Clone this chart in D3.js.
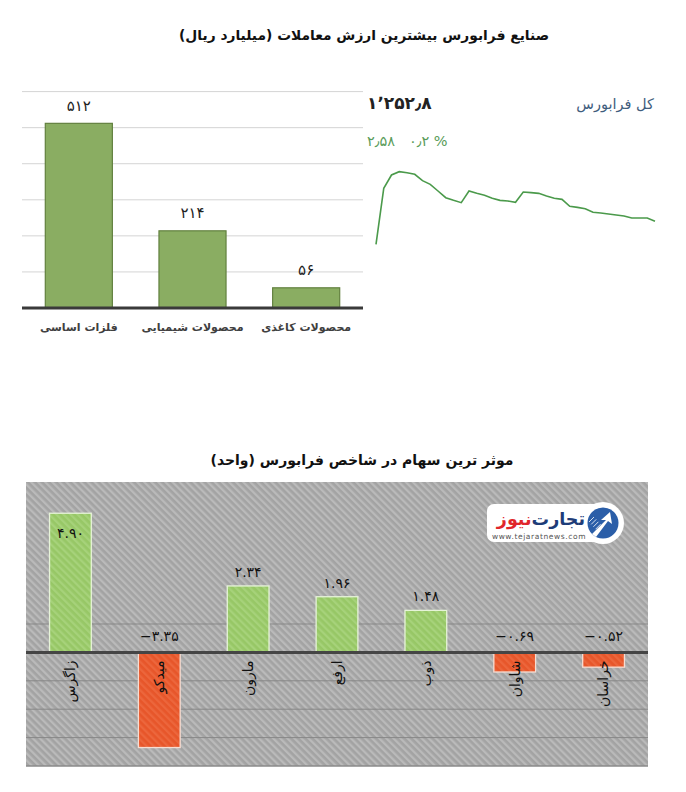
<!DOCTYPE html>
<html><head><meta charset="utf-8">
<script src="https://cdn.jsdelivr.net/npm/d3@7"></script>
<style>body{margin:0;background:#fff} svg{display:block;font-family:"DejaVu Sans",sans-serif} .num{unicode-bidi:bidi-override;direction:ltr}</style>
</head><body><svg id="c" width="686" height="792"></svg>
<script>
// ---------- data ----------
const topTitle = "صنایع فرابورس بیشترین ارزش معاملات  (میلیارد ریال)";
const topCategories = ["فلزات اساسی", "محصولات شیمیایی", "محصولات کاغذی"];
const topValues = [512, 214, 56];
const topValueLabels = ["۵۱۲", "۲۱۴", "۵۶"];
const topTicks = [100, 200, 300, 400, 500, 600];

const indexName = "کل فرابورس";
const indexLevel = "۱٬۲۵۲٫۸";
const indexChange = "۲٫۵۸   ۰٫۲ %";
const indexSeries = [1249.35, 1257.75, 1259.75, 1260.25, 1260.1, 1259.85, 1258.9, 1258.35, 1257.35,
  1256.35, 1255.95, 1255.6, 1257.35, 1257.0, 1256.7, 1256.25, 1255.95, 1255.85, 1255.65, 1257.2,
  1257.1, 1257.0, 1256.6, 1256.25, 1256.1, 1255.05, 1254.9, 1254.7, 1254.15, 1254.05, 1253.9,
  1253.75, 1253.6, 1253.3, 1253.3, 1253.3, 1252.8];

const bottomTitle = "موثر ترین سهام در شاخص فرابورس (واحد)";
const stocks = ["زاگرس", "میدکو", "مارون", "ارفع", "ذوب", "شاوان", "خراسان"];
const impacts = [4.90, -3.35, 2.34, 1.96, 1.48, -0.69, -0.52];
const impactLabels = ["۴.۹۰", "−۳.۳۵", "۲.۳۴", "۱.۹۶", "۱.۴۸", "−۰.۶۹", "−۰.۵۲"];
const impactGrid = [1, -1, -2, -3];

// ---------- drawing ----------
const svg = d3.select("#c");
const defs = svg.append("defs");
function hatch(id, base, light, w) {
  const p = defs.append("pattern").attr("id", id).attr("patternUnits", "userSpaceOnUse")
    .attr("width", 5).attr("height", 5).attr("patternTransform", "rotate(-45)");
  p.append("rect").attr("width", 5).attr("height", 5).attr("fill", base);
  p.append("rect").attr("width", w).attr("height", 5).attr("fill", light);
}
hatch("bgH", "#a3a3a3", "#bababa", 2.3);
hatch("gH", "#97c766", "#a6d27a", 2.3);
hatch("rH", "#e7562a", "#ec663c", 2.3);

// top title
svg.append("text").attr("x", 364).attr("y", 40).attr("text-anchor", "middle")
  .attr("font-size", 13.8).attr("font-weight", "bold").attr("fill", "#111").text(topTitle);

// top bar chart
const tx = d3.scaleBand().domain(topCategories).range([22, 363]).paddingInner(0.41).paddingOuter(0.205);
const ty = d3.scaleLinear().domain([0, 600]).range([308, 91.6]);
svg.append("g").selectAll("line").data(topTicks).join("line")
  .attr("x1", 22).attr("x2", 363).attr("y1", d => ty(d)).attr("y2", d => ty(d))
  .attr("stroke", "#d4d4d4").attr("stroke-width", 1);
svg.append("g").selectAll("rect").data(topValues).join("rect")
  .attr("x", (d, i) => tx(topCategories[i])).attr("width", tx.bandwidth())
  .attr("y", d => ty(d)).attr("height", d => ty(0) - ty(d))
  .attr("fill", "#8aad62").attr("stroke", "#62803f").attr("stroke-width", 1.2);
svg.append("line").attr("x1", 22).attr("x2", 363).attr("y1", ty(0)).attr("y2", ty(0))
  .attr("stroke", "#3a3a3a").attr("stroke-width", 3);
svg.append("g").selectAll("text").data(topValues).join("text")
  .attr("class", "num")
  .attr("x", (d, i) => tx(topCategories[i]) + tx.bandwidth() / 2).attr("y", d => ty(d) - 18)
  .attr("dy", "0.35em").attr("text-anchor", "middle").attr("font-size", 15).attr("fill", "#222")
  .text((d, i) => topValueLabels[i]);
svg.append("g").selectAll("text").data(topCategories).join("text")
  .attr("x", d => tx(d) + tx.bandwidth() / 2).attr("y", 327).attr("dy", "0.35em")
  .attr("text-anchor", "middle").attr("font-size", 11).attr("font-weight", "bold").attr("fill", "#404040")
  .text(d => d);

// index sparkline
svg.append("text").attr("class", "num").attr("x", 367).attr("y", 103).attr("dy", "0.35em").attr("font-size", 17)
  .attr("font-weight", "bold").attr("fill", "#222").text(indexLevel);
svg.append("text").attr("x", 654).attr("y", 104).attr("dy", "0.35em").attr("text-anchor", "end")
  .attr("font-size", 14.5).attr("fill", "#3f5d7d").text(indexName);
svg.append("text").attr("class", "num").attr("x", 367).attr("y", 141).attr("dy", "0.35em").attr("font-size", 14.5)
  .attr("fill", "#5a9c5a").style("white-space", "pre").text(indexChange);
const lx = d3.scalePoint().domain(d3.range(indexSeries.length)).range([376, 655]);
const ly = d3.scaleLinear().domain([1249, 1261]).range([246.67, 166.67]);
svg.append("path").datum(indexSeries)
  .attr("d", d3.line().x((d, i) => lx(i)).y(d => ly(d)))
  .attr("fill", "none").attr("stroke", "#4b9a4b").attr("stroke-width", 1.6);

// bottom title
svg.append("text").attr("x", 362).attr("y", 465).attr("text-anchor", "middle")
  .attr("font-size", 14).attr("font-weight", "bold").attr("fill", "#111").text(bottomTitle);

// bottom bar chart
const bx = d3.scaleBand().domain(stocks).range([26, 648]).paddingInner(0.53).paddingOuter(0.265);
const by = d3.scaleLinear().domain([-4, 6]).range([766, 482]);
svg.append("rect").attr("x", 26).attr("y", by(6)).attr("width", 622).attr("height", by(-4) - by(6))
  .attr("fill", "url(#bgH)");
svg.append("g").selectAll("line").data(impactGrid).join("line")
  .attr("x1", 26).attr("x2", 648).attr("y1", d => by(d)).attr("y2", d => by(d))
  .attr("stroke", "#878787").attr("stroke-width", 1);
svg.append("line").attr("x1", 26).attr("x2", 648).attr("y1", by(-4)).attr("y2", by(-4))
  .attr("stroke", "#8a8a8a").attr("stroke-width", 1.5);
svg.append("g").selectAll("rect").data(impacts).join("rect")
  .attr("x", (d, i) => bx(stocks[i])).attr("width", bx.bandwidth())
  .attr("y", d => by(Math.max(0, d))).attr("height", d => Math.abs(by(d) - by(0)))
  .attr("fill", d => d >= 0 ? "url(#gH)" : "url(#rH)")
  .attr("stroke", d => d >= 0 ? "#e6f3d8" : "#f7ddd2").attr("stroke-width", 1.3);
svg.append("line").attr("x1", 26).attr("x2", 648).attr("y1", by(0)).attr("y2", by(0))
  .attr("stroke", "#454545").attr("stroke-width", 3);
svg.append("g").selectAll("text").data(impacts).join("text")
  .attr("class", "num")
  .attr("x", (d, i) => bx(stocks[i]) + bx.bandwidth() / 2)
  .attr("y", d => d < 0 ? by(0) - 16 : (d > 4 ? by(d) + 20 : by(d) - 14))
  .attr("dy", "0.35em").attr("text-anchor", "middle").attr("font-size", 14).attr("fill", "#111")
  .text((d, i) => impactLabels[i]);
svg.append("g").selectAll("text").data(stocks).join("text")
  .attr("transform", d => `translate(${bx(d) + bx.bandwidth() / 2},${by(0) + 8}) rotate(-90)`)
  .attr("dy", "0.35em").attr("text-anchor", "end").attr("font-size", 14).attr("fill", "#111")
  .text(d => d);

// logo
const lg = svg.append("g");
lg.append("rect").attr("x", 487).attr("y", 504).attr("width", 118).attr("height", 38).attr("rx", 7).attr("fill", "#fff");
lg.append("circle").attr("cx", 603).attr("cy", 523).attr("r", 21).attr("fill", "#fff");
lg.append("circle").attr("cx", 603).attr("cy", 523).attr("r", 15.5).attr("fill", "#2b5ea8");
lg.append("path").attr("d", "M592,534 L606,520 L601,520 L610,512 L612,524 L608,521 L596,537 Z").attr("fill", "#fff");
for (let k = 0; k < 5; k++) {
  lg.append("line").attr("x1", 589 + k * 2.2).attr("y1", 522 + k * 2.4).attr("x2", 594 + k * 2.2).attr("y2", 517 + k * 2.4)
    .attr("stroke", "#fff").attr("stroke-width", 0.8);
}
const lt = lg.append("text").attr("x", 585).attr("y", 519).attr("dy", "0.35em").attr("text-anchor", "end")
  .attr("font-size", 17.5).attr("font-weight", "bold");
lt.append("tspan").attr("fill", "#1e3c78").text("تجارت\u200c");
lt.append("tspan").attr("fill", "#e0262b").text("نیوز");
lg.append("text").attr("x", 539).attr("y", 536).attr("dy", "0.35em").attr("text-anchor", "middle")
  .attr("font-size", 7.5).attr("letter-spacing", 0.6).attr("fill", "#555").text("www.tejaratnews.com");
</script></body></html>
